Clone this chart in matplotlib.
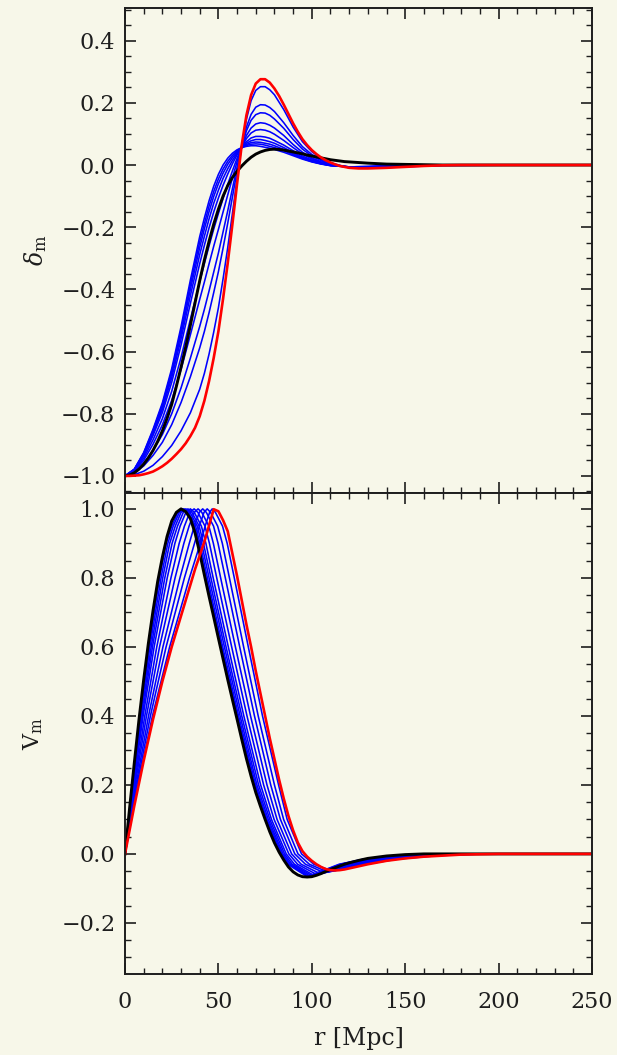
import matplotlib
matplotlib.use("Agg")
import matplotlib.pyplot as plt
from matplotlib.ticker import MultipleLocator

# ---------------- data ----------------
r_main = [0, 2.5, 5, 7.5, 10, 12.5, 15, 17.5, 20, 22.5, 25, 27.5, 30, 32.5, 35, 37.5,
          40, 42.5, 45, 47.5, 50, 52.5, 55, 57.5, 60, 62.5, 65, 67.5, 70, 72.5, 75, 77.5,
          80, 82.5, 85, 87.5, 90, 92.5, 95, 97.5, 100, 102.5, 105, 107.5, 110, 112.5, 115,
          117.5, 120, 125, 130, 140, 150, 160, 170, 180, 200, 250]

red_delta = [-1.000, -1.000, -0.999, -0.998, -0.995, -0.991, -0.986, -0.978, -0.969, -0.958,
             -0.945, -0.930, -0.914, -0.895, -0.872, -0.845, -0.808, -0.758, -0.695, -0.620,
             -0.535, -0.430, -0.315, -0.190, -0.060, 0.065, 0.160, 0.225, 0.262, 0.276,
             0.276, 0.265, 0.246, 0.222, 0.194, 0.164, 0.134, 0.107, 0.083, 0.064,
             0.048, 0.035, 0.024, 0.015, 0.008, 0.002, -0.003, -0.006, -0.009,
             -0.011, -0.011, -0.009, -0.006, -0.003, -0.001, 0.0, 0.0, 0.0]

black_delta = [-1.000, -0.997, -0.990, -0.978, -0.962, -0.942, -0.918, -0.889, -0.855, -0.815,
               -0.770, -0.712, -0.650, -0.585, -0.515, -0.443, -0.372, -0.305, -0.245, -0.190,
               -0.142, -0.100, -0.066, -0.040, -0.020, -0.003, 0.012, 0.025, 0.035, 0.042,
               0.047, 0.050, 0.051, 0.050, 0.048, 0.045, 0.042, 0.039, 0.036, 0.032,
               0.029, 0.026, 0.023, 0.020, 0.017, 0.015, 0.013, 0.011, 0.010,
               0.008, 0.006, 0.003, 0.002, 0.001, 0.0, 0.0, 0.0, 0.0]

red_v = [0.000, 0.070, 0.140, 0.205, 0.270, 0.330, 0.390, 0.445, 0.500, 0.550,
         0.600, 0.645, 0.690, 0.735, 0.780, 0.825, 0.865, 0.905, 0.952, 0.999,
         0.993, 0.967, 0.935, 0.870, 0.805, 0.735, 0.665, 0.600, 0.530, 0.465,
         0.400, 0.335, 0.275, 0.215, 0.160, 0.110, 0.068, 0.033, 0.008, -0.008,
         -0.020, -0.030, -0.038, -0.044, -0.047, -0.048, -0.047, -0.045, -0.042,
         -0.036, -0.030, -0.020, -0.013, -0.008, -0.005, -0.002, 0.0, 0.0]

black_v = [0.000, 0.135, 0.265, 0.390, 0.505, 0.610, 0.705, 0.790, 0.860, 0.920,
           0.965, 0.990, 1.000, 0.992, 0.972, 0.930, 0.872, 0.808, 0.746, 0.686,
           0.625, 0.565, 0.505, 0.447, 0.390, 0.332, 0.276, 0.225, 0.178, 0.138,
           0.100, 0.064, 0.032, 0.005, -0.018, -0.038, -0.052, -0.061, -0.066, -0.067,
           -0.066, -0.062, -0.057, -0.051, -0.045, -0.040, -0.035, -0.030, -0.026,
           -0.019, -0.013, -0.006, -0.002, 0.0, 0.0, 0.0, 0.0, 0.0]

# blue family, density panel (common radius grid)
r_blue = [0, 5, 10, 15, 20, 25, 30, 35, 40, 42.5, 45, 47.5, 50, 52.5, 55, 57.5, 60, 62.5,
          65, 67.5, 70, 72.5, 75, 77.5, 80, 85, 90, 95, 100, 105, 110, 120, 130, 145, 170, 250]

blue_delta = [
    [-1.000, -0.978, -0.925, -0.850, -0.765, -0.655, -0.520, -0.370, -0.230, -0.170, -0.115, -0.068,
     -0.030, 0.000, 0.022, 0.038, 0.049, 0.056, 0.060, 0.062, 0.062, 0.060, 0.057, 0.054, 0.050,
     0.041, 0.030, 0.019, 0.010, 0.003, -0.002, -0.006, -0.005, -0.002, 0.0, 0.0],
    [-1.000, -0.979, -0.927, -0.854, -0.771, -0.664, -0.532, -0.385, -0.247, -0.188, -0.132, -0.085,
     -0.045, -0.013, 0.012, 0.031, 0.046, 0.056, 0.063, 0.067, 0.068, 0.067, 0.064, 0.060, 0.056,
     0.046, 0.033, 0.021, 0.011, 0.004, -0.002, -0.006, -0.005, -0.002, 0.0, 0.0],
    [-1.000, -0.979, -0.929, -0.858, -0.777, -0.672, -0.544, -0.400, -0.265, -0.205, -0.150, -0.101,
     -0.060, -0.026, 0.002, 0.024, 0.042, 0.057, 0.066, 0.072, 0.074, 0.073, 0.070, 0.067, 0.062,
     0.050, 0.036, 0.023, 0.012, 0.004, -0.001, -0.006, -0.005, -0.002, 0.0, 0.0],
    [-1.000, -0.980, -0.932, -0.864, -0.785, -0.684, -0.559, -0.420, -0.288, -0.229, -0.173, -0.123,
     -0.081, -0.043, -0.012, 0.015, 0.038, 0.057, 0.070, 0.078, 0.082, 0.082, 0.079, 0.075, 0.070,
     0.056, 0.040, 0.025, 0.014, 0.005, -0.001, -0.006, -0.006, -0.003, 0.0, 0.0],
    [-1.000, -0.981, -0.936, -0.870, -0.796, -0.699, -0.579, -0.445, -0.317, -0.258, -0.202, -0.151,
     -0.106, -0.065, -0.029, 0.004, 0.033, 0.057, 0.075, 0.087, 0.092, 0.092, 0.090, 0.086, 0.079,
     0.064, 0.046, 0.029, 0.016, 0.006, -0.001, -0.006, -0.006, -0.003, 0.0, 0.0],
    [-1.000, -0.983, -0.943, -0.884, -0.816, -0.728, -0.619, -0.496, -0.375, -0.317, -0.260, -0.206,
     -0.156, -0.108, -0.062, -0.019, 0.022, 0.058, 0.085, 0.103, 0.112, 0.114, 0.112, 0.107, 0.099,
     0.079, 0.056, 0.035, 0.020, 0.008, 0.001, -0.007, -0.007, -0.004, 0.0, 0.0],
    [-1.000, -0.985, -0.950, -0.898, -0.836, -0.757, -0.658, -0.546, -0.432, -0.376, -0.318, -0.261,
     -0.207, -0.151, -0.096, -0.042, 0.011, 0.059, 0.095, 0.119, 0.132, 0.136, 0.134, 0.128, 0.119,
     0.095, 0.066, 0.041, 0.023, 0.010, 0.002, -0.007, -0.007, -0.004, 0.0, 0.0],
    [-1.000, -0.989, -0.960, -0.918, -0.867, -0.800, -0.717, -0.621, -0.519, -0.464, -0.405, -0.344,
     -0.283, -0.215, -0.147, -0.076, -0.006, 0.061, 0.110, 0.144, 0.162, 0.168, 0.167, 0.160, 0.148,
     0.118, 0.082, 0.051, 0.029, 0.014, 0.003, -0.008, -0.008, -0.005, -0.001, 0.0],
    [-1.000, -0.991, -0.968, -0.934, -0.892, -0.835, -0.764, -0.681, -0.588, -0.535, -0.475, -0.410,
     -0.343, -0.267, -0.187, -0.103, -0.019, 0.062, 0.122, 0.163, 0.186, 0.194, 0.193, 0.185, 0.172,
     0.136, 0.095, 0.059, 0.034, 0.016, 0.004, -0.008, -0.009, -0.006, -0.001, 0.0],
    [-1.000, -0.996, -0.985, -0.966, -0.938, -0.902, -0.855, -0.797, -0.721, -0.670, -0.608, -0.537,
     -0.459, -0.366, -0.265, -0.156, -0.044, 0.064, 0.147, 0.207, 0.240, 0.252, 0.252, 0.242, 0.226,
     0.178, 0.122, 0.075, 0.043, 0.021, 0.007, -0.009, -0.010, -0.007, -0.001, 0.0],
]

# blue family, velocity panel: radius where each curve reaches these levels
v_levels_head = [0, 0.2, 0.4, 0.6, 0.8, 0.9, 0.95, 0.99, 1.0, 0.99, 0.95, 0.9, 0.8, 0.6, 0.4,
                 0.2, 0.1, 0.0, -0.03]
v_levels_tail = [-0.03, -0.015, -0.005, 0.0, 0.0]
blue_v_min = [-0.066, -0.065, -0.064, -0.063, -0.062, -0.060, -0.058, -0.055, -0.053, -0.050]
blue_v_r = [
    [0, 3.8, 8.0, 12.8, 18.5, 22.0, 25.0, 28.3, 31.0, 33.2, 37.1, 39.4, 43.4, 51.7, 60.2, 69.3, 75.5, 83.5, 87.1, 97.6, 114.6, 127.8, 144.1, 161.4, 250],
    [0, 4.0, 8.3, 13.3, 19.3, 22.9, 25.8, 29.1, 31.7, 33.9, 37.8, 40.1, 44.1, 52.3, 60.8, 69.9, 76.0, 84.0, 87.8, 98.2, 115.3, 128.7, 145.2, 162.8, 250],
    [0, 4.2, 8.7, 14.0, 20.2, 23.9, 26.9, 30.0, 32.6, 34.8, 38.7, 41.0, 45.0, 53.2, 61.6, 70.6, 76.7, 84.6, 88.6, 99.0, 116.1, 129.7, 146.5, 164.6, 250],
    [0, 4.4, 9.2, 14.7, 21.3, 25.2, 28.1, 31.2, 33.7, 35.8, 39.7, 42.0, 46.0, 54.1, 62.5, 71.5, 77.5, 85.4, 89.5, 100.0, 117.0, 131.0, 148.1, 166.7, 250],
    [0, 4.6, 9.7, 15.6, 22.6, 26.7, 29.5, 32.6, 35.0, 37.1, 40.9, 43.3, 47.2, 55.3, 63.6, 72.6, 78.4, 86.3, 90.7, 101.0, 118.2, 132.5, 150.0, 169.1, 250],
    [0, 5.0, 10.6, 17.0, 24.6, 29.0, 31.8, 34.7, 37.0, 39.0, 42.8, 45.2, 49.1, 57.1, 65.3, 74.2, 79.8, 87.7, 92.4, 102.7, 119.9, 134.8, 153.0, 173.0, 250],
    [0, 5.4, 11.5, 18.5, 26.8, 31.5, 34.3, 37.1, 39.1, 41.1, 44.9, 47.3, 51.2, 59.1, 67.2, 76.0, 81.4, 89.2, 94.3, 104.6, 121.8, 137.3, 156.2, 177.2, 250],
    [0, 5.9, 12.6, 20.3, 29.4, 34.4, 37.1, 39.8, 41.6, 43.5, 47.4, 49.8, 53.7, 61.4, 69.3, 78.0, 83.2, 90.9, 96.6, 106.8, 124.1, 140.2, 160.0, 182.1, 250],
    [0, 6.4, 13.6, 22.0, 31.8, 37.2, 39.8, 42.3, 44.0, 45.8, 49.6, 52.1, 55.9, 63.5, 71.3, 80.0, 84.9, 92.6, 98.7, 108.8, 126.2, 143.0, 163.5, 186.6, 250],
    [0, 6.9, 14.7, 23.9, 34.5, 40.3, 42.9, 45.3, 46.7, 48.4, 52.2, 54.7, 58.5, 66.0, 73.6, 82.2, 86.8, 94.5, 101.1, 111.1, 128.6, 146.1, 167.6, 191.9, 250],
]

x_ticks = [0, 50, 100, 150, 200, 250]
delta_ticks = [-1.0, -0.8, -0.6, -0.4, -0.2, 0.0, 0.2, 0.4]
v_ticks = [-0.2, 0.0, 0.2, 0.4, 0.6, 0.8, 1.0]

# ---------------- style ----------------
BG = "#f7f7e9"
INK = "#1e1e1e"
plt.rcParams["font.family"] = ["DejaVu Serif"]
plt.rcParams["mathtext.fontset"] = "dejavuserif"

fig = plt.figure(figsize=(6.17, 10.55), dpi=100, facecolor=BG)
ax1 = fig.add_axes([0.2026, 0.5327, 0.7569, 0.4597], facecolor=BG)
ax2 = fig.add_axes([0.2026, 0.0768, 0.7569, 0.4559], facecolor=BG)

BLUE_LW = 1.15

# top panel
for curve in blue_delta:
    ax1.plot(r_blue, curve, color="#0000ff", lw=BLUE_LW, solid_joinstyle="round")
ax1.plot(r_main, black_delta, color="black", lw=2.1, solid_joinstyle="round")
ax1.plot(r_main, red_delta, color="#ff0000", lw=1.9, solid_joinstyle="round")

# bottom panel
for rr, vmin in zip(blue_v_r, blue_v_min):
    vv = v_levels_head + [vmin] + v_levels_tail
    ax2.plot(rr, vv, color="#0000ff", lw=BLUE_LW, solid_joinstyle="round")
ax2.plot(r_main, black_v, color="black", lw=2.1, solid_joinstyle="round")
ax2.plot(r_main, red_v, color="#ff0000", lw=1.9, solid_joinstyle="round")

ax1.set_xlim(0, 250)
ax2.set_xlim(0, 250)
ax1.set_ylim(-1.055, 0.505)
ax2.set_ylim(-0.348, 1.046)

for ax in (ax1, ax2):
    ax.set_xticks(x_ticks)
    ax.xaxis.set_minor_locator(MultipleLocator(10))
    ax.yaxis.set_minor_locator(MultipleLocator(0.05))
    ax.tick_params(which="both", direction="in", top=True, right=True,
                   color=INK, labelcolor=INK, labelsize=16)
    ax.tick_params(which="major", length=8, width=1.2, pad=7)
    ax.tick_params(which="minor", length=4.5, width=1.0)
    for s in ax.spines.values():
        s.set_linewidth(1.4)
        s.set_color(INK)

ax1.set_yticks(delta_ticks)
ax1.set_yticklabels([f"{t:.1f}".replace("-", "\u2212") for t in delta_ticks])
ax1.tick_params(axis="x", labelbottom=False)
ax2.set_yticks(v_ticks)
ax2.set_yticklabels([f"{t:.1f}".replace("-", "\u2212") for t in v_ticks])
ax2.set_xticklabels([str(t) for t in x_ticks])
ax2.tick_params(axis="x", pad=12)

ax1.set_ylabel(r"$\delta_{\rm m}$", fontsize=17, color=INK)
ax1.yaxis.set_label_coords(-0.163, 0.5)
ax2.set_ylabel(r"V$_{\rm m}$", fontsize=16, color=INK)
ax2.yaxis.set_label_coords(-0.172, 0.5)
ax2.set_xlabel("r [Mpc]", fontsize=17, color=INK)
ax2.xaxis.set_label_coords(0.5, -0.11)

fig.savefig("out.png", dpi=100, facecolor=BG)
